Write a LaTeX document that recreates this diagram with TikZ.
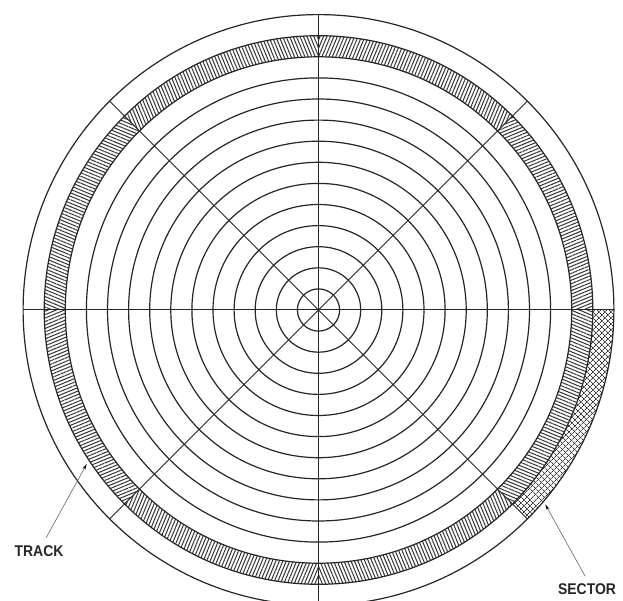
\documentclass[tikz,border=0pt]{standalone}
\usepackage{fontspec}
\setmainfont{Liberation Sans}
\usetikzlibrary{patterns.meta,arrows.meta}
\tikzset{
  ring/.style={line width=1.2pt, black!85},
  spoke/.style={line width=1pt, black!85},
  hatchband/.style={pattern={Lines[angle=#1,distance=3.2pt,line width=1pt]}, pattern color=black!80},
  crossA/.style={pattern={Lines[angle=45,distance=4pt,line width=0.8pt]}, pattern color=black!80},
  crossB/.style={pattern={Lines[angle=-45,distance=4pt,line width=0.8pt]}, pattern color=black!80},
  lbl/.style={font=\bfseries\fontsize{15.5}{15.5}\selectfont, xscale=0.9, inner sep=0pt, text=black!85},
  pointer/.style={line width=0.6pt, black!60, -{Stealth[length=6pt,width=3pt,black]}}
}
\begin{document}
\begin{tikzpicture}[x=1pt,y=1pt]
\useasboundingbox (0,0) rectangle (623,600);
\fill[white] (0,0) rectangle (623,600);
\begin{scope}[shift={(318.5,290)}]
  % hatched track band, 8 sectors
  \foreach \a in {0,45,...,315}{
    \pgfmathsetmacro{\b}{\a+45}
    \pgfmathsetmacro{\m}{\a+22.5}
    \fill[hatchband=\m] (\a:253.2) arc[start angle=\a,end angle=\b,radius=253.2]
      -- (\b:274.3) arc[start angle=\b,end angle=\a,radius=274.3] -- cycle;
  }
  % crosshatched sector
  \fill[crossA] (-45:274.3) arc[start angle=-45,end angle=0,radius=274.3]
      -- (0:295.4) arc[start angle=0,end angle=-45,radius=295.4] -- cycle;
  \fill[crossB] (-45:274.3) arc[start angle=-45,end angle=0,radius=274.3]
      -- (0:295.4) arc[start angle=0,end angle=-45,radius=295.4] -- cycle;
  % concentric tracks
  \foreach \k in {1,...,14}{
    \draw[ring] (0,0) circle[radius=\k*21.1];
  }
  % sector lines
  \foreach \a in {0,45,...,315}{
    \draw[spoke] (0,0) -- (\a:295.4);
  }
\end{scope}
\coordinate (trackTip) at (86.7,136);
\coordinate (trackTail) at (46,62);
\coordinate (sectorTip) at (545.3,95.6);
\coordinate (sectorTail) at (585,24);
\node[lbl] (track) at (39,49) {TRACK};
\node[lbl] (sector) at (587,10.5) {SECTOR};
\draw[pointer] (trackTail) -- (trackTip);
\draw[pointer] (sectorTail) -- (sectorTip);
\end{tikzpicture}
\end{document}
